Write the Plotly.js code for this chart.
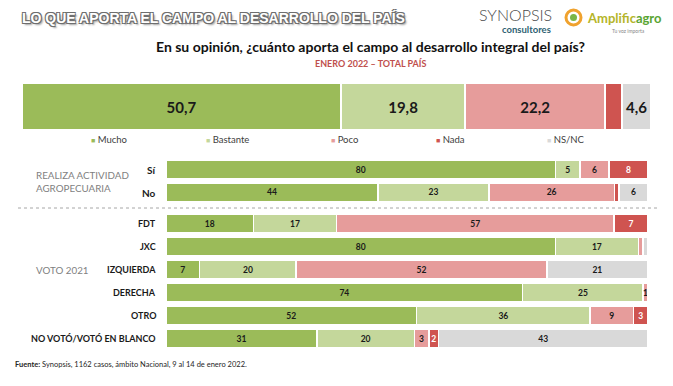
<!DOCTYPE html>
<html>
<head>
<meta charset="utf-8">
<script src="https://cdn.plot.ly/plotly-3.0.1.min.js"></script>
<style>
  html, body { margin: 0; padding: 0; background: #ffffff; }
  #chart { width: 673px; height: 386px; }
</style>
</head>
<body>
<div id="chart"></div>
<script>
// ---------------- DATA ----------------
const categories = ['Mucho', 'Bastante', 'Poco', 'Nada', 'NS/NC'];
const topValues = [50.7, 19.8, 22.2, 2.7, 4.6];
const topLabels = ['50,7', '19,8', '22,2', '', '4,6'];

const rowLabels = ['Sí', 'No', 'FDT', 'JXC', 'IZQUIERDA', 'DERECHA', 'OTRO', 'NO VOTÓ/VOTÓ EN BLANCO'];
const mucho    = [80, 44, 18, 80,  7, 74, 52, 31];
const bastante = [ 5, 23, 17, 17, 20, 25, 36, 20];
const poco     = [ 6, 26, 57,  1, 52,  1,  9,  3];
const nada     = [ 8,  1,  7,  0,  0,  0,  3,  2];
const nsnc     = [ 0,  6,  0,  1, 21,  0,  0, 43];
// segments drawn without a printed value: [row, category]
const unlabeled = [[1, 3], [3, 2], [3, 4]];

const groupLabels = ['REALIZA ACTIVIDAD<br>AGROPECUARIA', 'VOTO 2021'];

// ---------------- STYLE ----------------
const colors = ['#9bbb59', '#c4d79b', '#e69c9b', '#cf5450', '#d9d9d9'];
const textColors = ['#1a1a1a', '#1a1a1a', '#1a1a1a', '#ffffff', '#1a1a1a'];
const FONT = 'Lato, "Open Sans", sans-serif';
const W = 673, H = 386;
const px = x => x / W;
const py = y => 1 - y / H;

const series = [mucho, bastante, poco, nada, nsnc];
const rowPos = rowLabels.map((_, i) => i + (i >= 2 ? 0.35 : 0));
const rowPx = 23;             // pixels per row unit
const firstRowCenter = 169.5; // pixel y of first row
const yTopPx = firstRowCenter - 0.5 * rowPx;
const yBotPx = firstRowCenter + (rowPos[rowPos.length - 1] + 0.5) * rowPx;

const traces = [];
// Top total bar
categories.forEach((c, k) => {
  traces.push({
    type: 'bar', orientation: 'h',
    x: [topValues[k]], y: [0], width: [1],
    xaxis: 'x', yaxis: 'y',
    marker: { color: colors[k], line: { color: '#ffffff', width: 2 } },
    text: [topLabels[k] ? '<b>' + topLabels[k] + '</b>' : ''],
    textposition: 'inside', insidetextanchor: 'middle',
    textangle: 0, constraintext: 'none',
    textfont: { family: FONT, size: 15, color: textColors[k] },
    hoverinfo: 'skip', showlegend: false
  });
});
// Breakdown bars
categories.forEach((c, k) => {
  const vals = series[k];
  const txt = vals.map((v, i) => {
    if (v === 0) return '';
    if (unlabeled.some(p => p[0] === i && p[1] === k)) return '';
    return '<b>' + v + '</b>';
  });
  traces.push({
    type: 'bar', orientation: 'h',
    x: vals, y: rowPos, width: rowPos.map(() => 0.83),
    xaxis: 'x2', yaxis: 'y2',
    marker: { color: colors[k], line: { color: '#ffffff', width: 1.5 } },
    text: txt, textposition: 'inside', insidetextanchor: 'middle',
    textangle: 0, constraintext: 'none',
    textfont: { family: FONT, size: 8.5, color: textColors[k] },
    hoverinfo: 'skip', showlegend: false
  });
});

const annotations = [];
// Legend
const legendX = [92, 207, 332, 437, 548];
categories.forEach((c, k) => {
  annotations.push({
    xref: 'paper', yref: 'paper', x: px(legendX[k] - 3), y: py(140),
    xanchor: 'left', yanchor: 'middle', showarrow: false,
    text: '<span style="color:' + colors[k] + ';font-size:7px">■</span> ' + c,
    font: { family: FONT, size: 9.5, color: '#404040' }
  });
});
// Row labels
rowLabels.forEach((r, i) => {
  annotations.push({
    xref: 'paper', yref: 'y2', x: px(158), y: rowPos[i],
    xanchor: 'right', yanchor: 'middle', showarrow: false,
    text: '<b>' + r + '</b>',
    font: { family: FONT, size: i < 2 ? 10 : 9, color: '#1a1a1a' }
  });
});
// Group labels
annotations.push({
  xref: 'paper', yref: 'y2', x: px(34), y: (rowPos[0] + rowPos[1]) / 2,
  xanchor: 'left', yanchor: 'middle', align: 'left', showarrow: false,
  text: groupLabels[0], font: { family: FONT, size: 9.8, color: '#7f7f7f' }
});
annotations.push({
  xref: 'paper', yref: 'y2', x: px(34), y: rowPos[4],
  xanchor: 'left', yanchor: 'middle', showarrow: false,
  text: groupLabels[1], font: { family: FONT, size: 9.8, color: '#7f7f7f' }
});
// Question & subtitle
annotations.push({
  xref: 'paper', yref: 'paper', x: px(370), y: py(47),
  xanchor: 'center', yanchor: 'middle', showarrow: false,
  text: '<b>En su opinión, ¿cuánto aporta el campo al desarrollo integral del país?</b>',
  font: { family: FONT, size: 14, color: '#111111' }
});
annotations.push({
  xref: 'paper', yref: 'paper', x: px(371), y: py(63),
  xanchor: 'center', yanchor: 'middle', showarrow: false,
  text: '<b>ENERO 2022 – TOTAL PAÍS</b>',
  font: { family: FONT, size: 9, color: '#c0504d' }
});
// Source
annotations.push({
  xref: 'paper', yref: 'paper', x: px(13), y: py(364),
  xanchor: 'left', yanchor: 'middle', showarrow: false,
  text: '<b>Fuente:</b> Synopsis, 1162 casos, ámbito Nacional, 9 al 14 de enero 2022.',
  font: { family: FONT, size: 7.5, color: '#262626' }
});
// Logos
annotations.push({
  xref: 'paper', yref: 'paper', x: px(515), y: py(14),
  xanchor: 'center', yanchor: 'middle', showarrow: false,
  text: 'SYNOPSIS', font: { family: FONT, size: 16, color: '#4a4a4a', weight: 300 }
});
annotations.push({
  xref: 'paper', yref: 'paper', x: px(526), y: py(29),
  xanchor: 'center', yanchor: 'middle', showarrow: false,
  text: '<b>consultores</b>', font: { family: FONT, size: 9.5, color: '#2f5f73' }
});
annotations.push({
  xref: 'paper', yref: 'paper', x: px(585), y: py(18),
  xanchor: 'left', yanchor: 'middle', showarrow: false,
  text: '<b><span style="color:#b5b52a">Amplific</span><span style="color:#5aa532">agro</span></b>',
  font: { family: FONT, size: 13, color: '#5aa532' }
});
annotations.push({
  xref: 'paper', yref: 'paper', x: px(628), y: py(31),
  xanchor: 'center', yanchor: 'middle', showarrow: false,
  text: 'Tu voz importa', font: { family: FONT, size: 5, color: '#888888' }
});

const shapes = [
  { type: 'line', xref: 'paper', yref: 'paper', x0: px(18), x1: px(660), y0: py(208), y1: py(208),
    line: { color: '#a6a6a6', width: 1, dash: 'dot' } },
  { type: 'circle', xref: 'paper', yref: 'paper', x0: px(566), x1: px(581), y0: py(25), y1: py(10),
    line: { color: '#f0a22e', width: 3 }, fillcolor: '#ffffff' },
  { type: 'circle', xref: 'paper', yref: 'paper', x0: px(570), x1: px(577), y0: py(21), y1: py(14),
    line: { color: '#7ab648', width: 0 }, fillcolor: '#7ab648' }
];

const hiddenAxis = { showgrid: false, zeroline: false, showticklabels: false, showline: false, ticks: '', fixedrange: true };

const layout = {
  width: W, height: H,
  margin: { l: 0, r: 0, t: 0, b: 0 },
  paper_bgcolor: '#ffffff', plot_bgcolor: 'rgba(0,0,0,0)',
  barmode: 'stack', barnorm: 'percent',
  showlegend: false,
  title: {
    text: 'LO QUE APORTA EL CAMPO AL DESARROLLO DEL PAÍS',
    x: px(22), xanchor: 'left', xref: 'paper',
    y: py(18), yanchor: 'middle', yref: 'paper',
    font: { family: '"Liberation Sans", Arial, sans-serif', size: 14, color: '#ffffff', weight: 'bold',
      shadow: '-1px -1px 0 #6e6e6e, 1px -1px 0 #6e6e6e, -1px 1px 0 #6e6e6e, 1px 1px 0 #6e6e6e, 2px 2px 2px #9a9a9a' }
  },
  xaxis: Object.assign({ domain: [px(22), px(651)], range: [0, 100], anchor: 'y' }, hiddenAxis),
  yaxis: Object.assign({ domain: [py(130), py(83)], range: [-0.5, 0.5], anchor: 'x' }, hiddenAxis),
  xaxis2: Object.assign({ domain: [px(166), px(648)], range: [0, 100], anchor: 'y2' }, hiddenAxis),
  yaxis2: Object.assign({ domain: [py(yBotPx), py(yTopPx)], range: [rowPos[rowPos.length - 1] + 0.5, -0.5], anchor: 'x2' }, hiddenAxis),
  annotations: annotations,
  shapes: shapes
};

Plotly.newPlot('chart', traces, layout, { displayModeBar: false, staticPlot: true });
</script>
</body>
</html>
